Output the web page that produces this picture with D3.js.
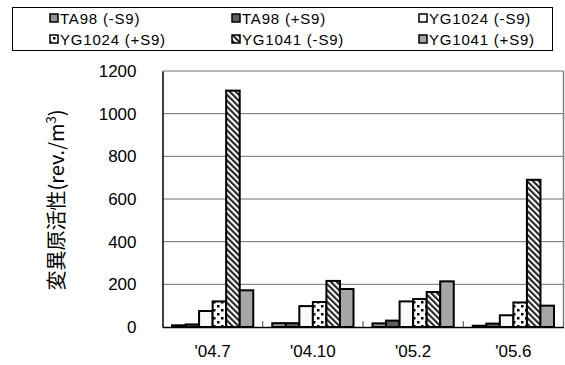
<!DOCTYPE html>
<html><head><meta charset="utf-8">
<script src="https://cdn.jsdelivr.net/npm/d3@7"></script>
<style>body{margin:0;background:#fff}svg{display:block}</style>
</head><body>
<script>
const categories = ["'04.7", "'04.10", "'05.2", "'05.6"];
const seriesNames = ["TA98 (-S9)", "TA98 (+S9)", "YG1024 (-S9)", "YG1024 (+S9)", "YG1041 (-S9)", "YG1041 (+S9)"];
const ta98Minus = [8, 18, 17, 6];
const ta98Plus = [12, 18, 30, 16];
const yg1024Minus = [75, 98, 120, 55];
const yg1024Plus = [120, 117, 131, 115];
const yg1041Minus = [1108, 216, 164, 690];
const yg1041Plus = [172, 178, 214, 100];
const yTicks = [0, 200, 400, 600, 800, 1000, 1200];

const seriesValues = [ta98Minus, ta98Plus, yg1024Minus, yg1024Plus, yg1041Minus, yg1041Plus];
const fills = ["#959595", "#5e5e5e", "#f8f8f8", "url(#dots)", "url(#stripes)", "#a6a6a6"];

const W = 565, H = 365;
const svg = d3.select("body").append("svg").attr("width", W).attr("height", H);
const defs = svg.append("defs");
const pd = defs.append("pattern").attr("id", "dots").attr("patternUnits", "userSpaceOnUse")
  .attr("width", 8).attr("height", 8);
pd.append("rect").attr("width", 8).attr("height", 8).attr("fill", "#fff");
pd.append("rect").attr("x", 1).attr("y", 1).attr("width", 2.5).attr("height", 2.5).attr("fill", "#000");
pd.append("rect").attr("x", 5).attr("y", 5).attr("width", 2.5).attr("height", 2.5).attr("fill", "#000");
const ps = defs.append("pattern").attr("id", "stripes").attr("patternUnits", "userSpaceOnUse")
  .attr("width", 4.2).attr("height", 4.2).attr("patternTransform", "rotate(-45)");
ps.append("rect").attr("width", 4.2).attr("height", 4.2).attr("fill", "#fff");
ps.append("rect").attr("width", 2.1).attr("height", 4.2).attr("fill", "#222");

const pLeft = 162.5, pRight = 563.5, pTop = 71, pBottom = 327;
const x = d3.scaleBand().domain(categories).range([pLeft, pRight]).padding(0);
const xs = d3.scaleBand().domain(seriesNames).range([9.5, x.bandwidth() - 9.5]).padding(0);
const y = d3.scaleLinear().domain([0, 1200]).range([pBottom, pTop]);

// gridlines
svg.append("g").selectAll("line").data(yTicks.filter(t => t > 0)).join("line")
  .attr("x1", pLeft).attr("x2", pRight).attr("y1", d => y(d)).attr("y2", d => y(d))
  .attr("stroke", "#6f6f6f").attr("stroke-width", 1);
// right border
svg.append("line").attr("x1", pRight).attr("x2", pRight).attr("y1", pTop).attr("y2", pBottom)
  .attr("stroke", "#7f7f7f").attr("stroke-width", 1.5);

// bars
seriesValues.forEach((vals, si) => {
  svg.append("g").selectAll("rect").data(vals).join("rect")
    .attr("x", (d, i) => x(categories[i]) + xs(seriesNames[si]))
    .attr("width", xs.bandwidth())
    .attr("y", d => y(d))
    .attr("height", d => y(0) - y(d))
    .attr("fill", fills[si])
    .attr("stroke", "#000").attr("stroke-width", 2);
});

// axes
const yAxis = d3.axisLeft(y).tickValues(yTicks).tickFormat(d3.format("d")).tickSize(0).tickPadding(26);
const gy = svg.append("g").attr("transform", `translate(${pLeft},0)`).call(yAxis);
gy.select(".domain").attr("stroke", "#000").attr("stroke-width", 1.5);
gy.selectAll("text").attr("font-family", "Liberation Sans, Arial, sans-serif").attr("font-size", 17).attr("fill", "#000");

const xAxis = d3.axisBottom(x).tickSize(0).tickPadding(18);
const gx = svg.append("g").attr("transform", `translate(0,${pBottom})`).call(xAxis);
gx.select(".domain").attr("stroke", "#000").attr("stroke-width", 1.5);
gx.selectAll("text").attr("font-family", "Liberation Sans, Arial, sans-serif").attr("font-size", 17).attr("fill", "#000");
// inward category separator ticks
svg.append("g").selectAll("line").data(categories.slice(1)).join("line")
  .attr("x1", d => x(d)).attr("x2", d => x(d)).attr("y1", pBottom).attr("y2", pBottom - 6)
  .attr("stroke", "#444").attr("stroke-width", 1);

// y title
const yt = svg.append("text").attr("transform", "translate(64,200) rotate(-90)")
  .attr("text-anchor", "middle").attr("font-family", "Noto Sans CJK JP, sans-serif")
  .attr("font-size", 20).attr("fill", "#000");
yt.append("tspan").text("変異原活性(rev./m");
yt.append("tspan").attr("dy", -8).attr("font-size", 13).text("3");
yt.append("tspan").attr("dy", 8).text(")");

// legend
svg.append("rect").attr("x", 12.5).attr("y", 7.5).attr("width", 540).attr("height", 43)
  .attr("fill", "#fff").attr("stroke", "#000").attr("stroke-width", 1);
const colX = [50, 232, 419];
const rowY = [18.5, 39.5];
seriesNames.forEach((name, i) => {
  const cx = colX[i % 3], cy = rowY[Math.floor(i / 3)];
  svg.append("rect").attr("x", cx).attr("y", cy - 4.5).attr("width", 8).attr("height", 8)
    .attr("fill", fills[i]).attr("stroke", "#000").attr("stroke-width", 1.5);
  svg.append("text").attr("x", cx + 10).attr("y", cy).attr("dy", "0.36em")
    .attr("font-family", "Liberation Sans, Arial, sans-serif").attr("font-size", 15)
    .attr("letter-spacing", 0.8)
    .attr("fill", "#000").text(name);
});
</script>
</body></html>
